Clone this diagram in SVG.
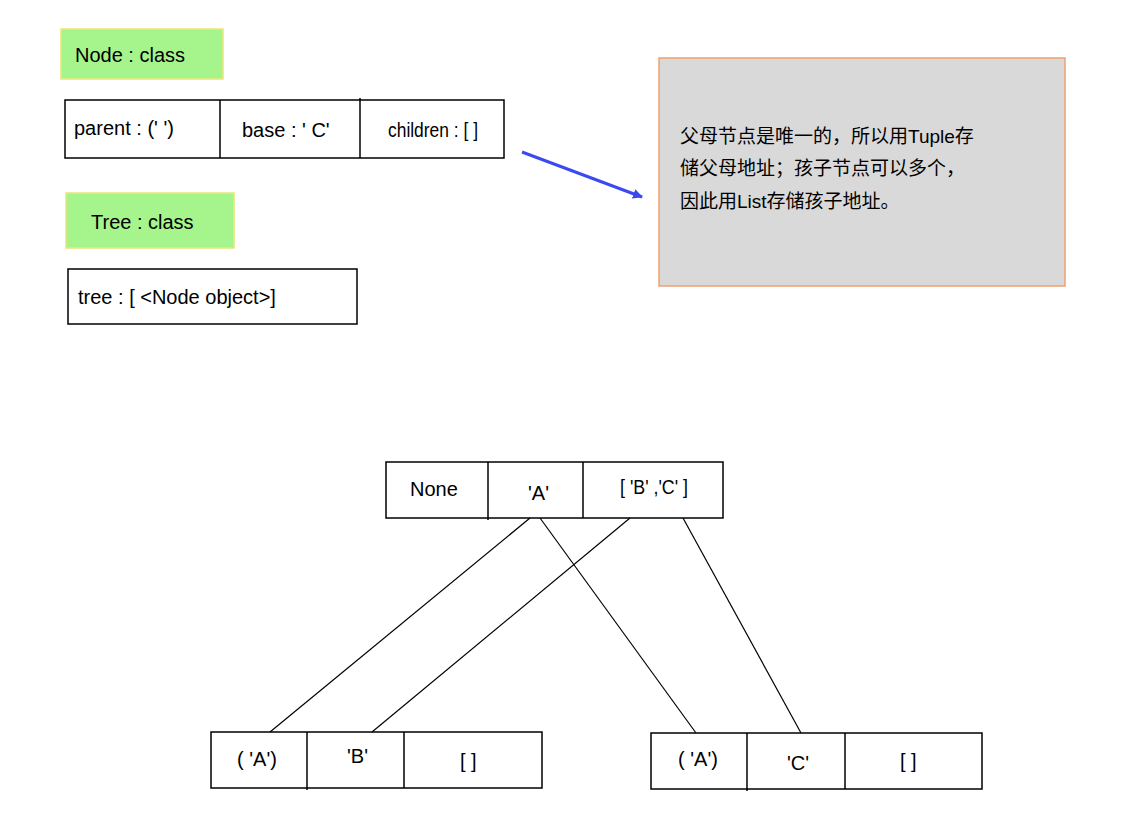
<svg xmlns="http://www.w3.org/2000/svg" width="1140" height="838" viewBox="0 0 1140 838">
<style>
.b{fill:#fff;stroke:#000;stroke-width:1.5}
.d{stroke:#000;stroke-width:1.5}
.g{fill:#a6f48c;stroke:#e8e878;stroke-width:1.5}
.t{font-family:"Liberation Sans",Arial,sans-serif;font-size:20px;fill:#000}
.n{font-family:"Liberation Sans","Noto Sans CJK SC",sans-serif;font-size:19px;fill:#000}
.c{stroke:#000;stroke-width:1.2;fill:none}
</style>
<defs><marker id="ah" markerWidth="10" markerHeight="10" refX="9" refY="5" orient="auto" markerUnits="userSpaceOnUse"><path d="M0,0L10,5L0,10z" fill="#3a4af0"/></marker></defs>
<rect width="1140" height="838" fill="#fff"/>
<g id="nodeLabel"><rect class="g" x="61" y="29" width="162" height="50"/><text class="t" x="75" y="62">Node : class</text></g>
<g id="nodeStruct"><rect class="b" x="65" y="100" width="439" height="58"/><line class="d" x1="220" y1="100" x2="220" y2="158"/><line class="d" x1="360" y1="98" x2="360" y2="158"/>
<text class="t" x="74" y="135">parent : (' ')</text><text class="t" x="242" y="137">base : ' C'</text><text class="t" x="388" y="137" font-size="18" textLength="90" lengthAdjust="spacingAndGlyphs">children : [ ]</text></g>
<g id="treeLabel"><rect class="g" x="66" y="193" width="168" height="55"/><text class="t" x="91" y="229">Tree : class</text></g>
<g id="treeStruct"><rect class="b" x="68" y="269" width="289" height="55"/><text class="t" x="78" y="304">tree : [ &lt;Node object&gt;]</text></g>
<g id="note"><rect x="659" y="58" width="406" height="228" fill="#d9d9d9" stroke="#f0a070" stroke-width="1.5"/>
<text class="n" x="680" y="143">父母节点是唯一的，所以用Tuple存</text><text class="n" x="680" y="175">储父母地址；孩子节点可以多个，</text><text class="n" x="680" y="208">因此用List存储孩子地址。</text></g>
<g id="root"><rect class="b" x="386" y="462" width="337" height="56"/><line class="d" x1="488" y1="462" x2="488" y2="520"/><line class="d" x1="583" y1="462" x2="583" y2="518"/>
<text class="t" x="410" y="496">None</text><text class="t" x="528" y="500">'A'</text><text class="t" x="620" y="494" font-size="18" textLength="68" lengthAdjust="spacingAndGlyphs">[ 'B' ,'C' ]</text></g>
<g id="childB"><rect class="b" x="211" y="732" width="331" height="56"/><line class="d" x1="307" y1="732" x2="307" y2="790"/><line class="d" x1="404" y1="732" x2="404" y2="788"/>
<text class="t" x="237" y="766">( 'A')</text><text class="t" x="347" y="763">'B'</text><text class="t" x="460" y="768" fill="#5a1a2a">[ ]</text></g>
<g id="childC"><rect class="b" x="651" y="733" width="331" height="56"/><line class="d" x1="747" y1="733" x2="747" y2="791"/><line class="d" x1="845" y1="733" x2="845" y2="789"/>
<text class="t" x="678" y="766">( 'A')</text><text class="t" x="787" y="770">'C'</text><text class="t" x="900" y="768">[ ]</text></g>
<g id="connectors">
<line x1="522" y1="152" x2="642" y2="197" stroke="#3a4af0" stroke-width="3" marker-end="url(#ah)"/>
<line class="c" x1="530" y1="518" x2="270" y2="732"/>
<line class="c" x1="630" y1="518" x2="372" y2="732"/>
<line class="c" x1="540" y1="518" x2="696" y2="733"/>
<line class="c" x1="683" y1="518" x2="801" y2="733"/>
</g>
</svg>
